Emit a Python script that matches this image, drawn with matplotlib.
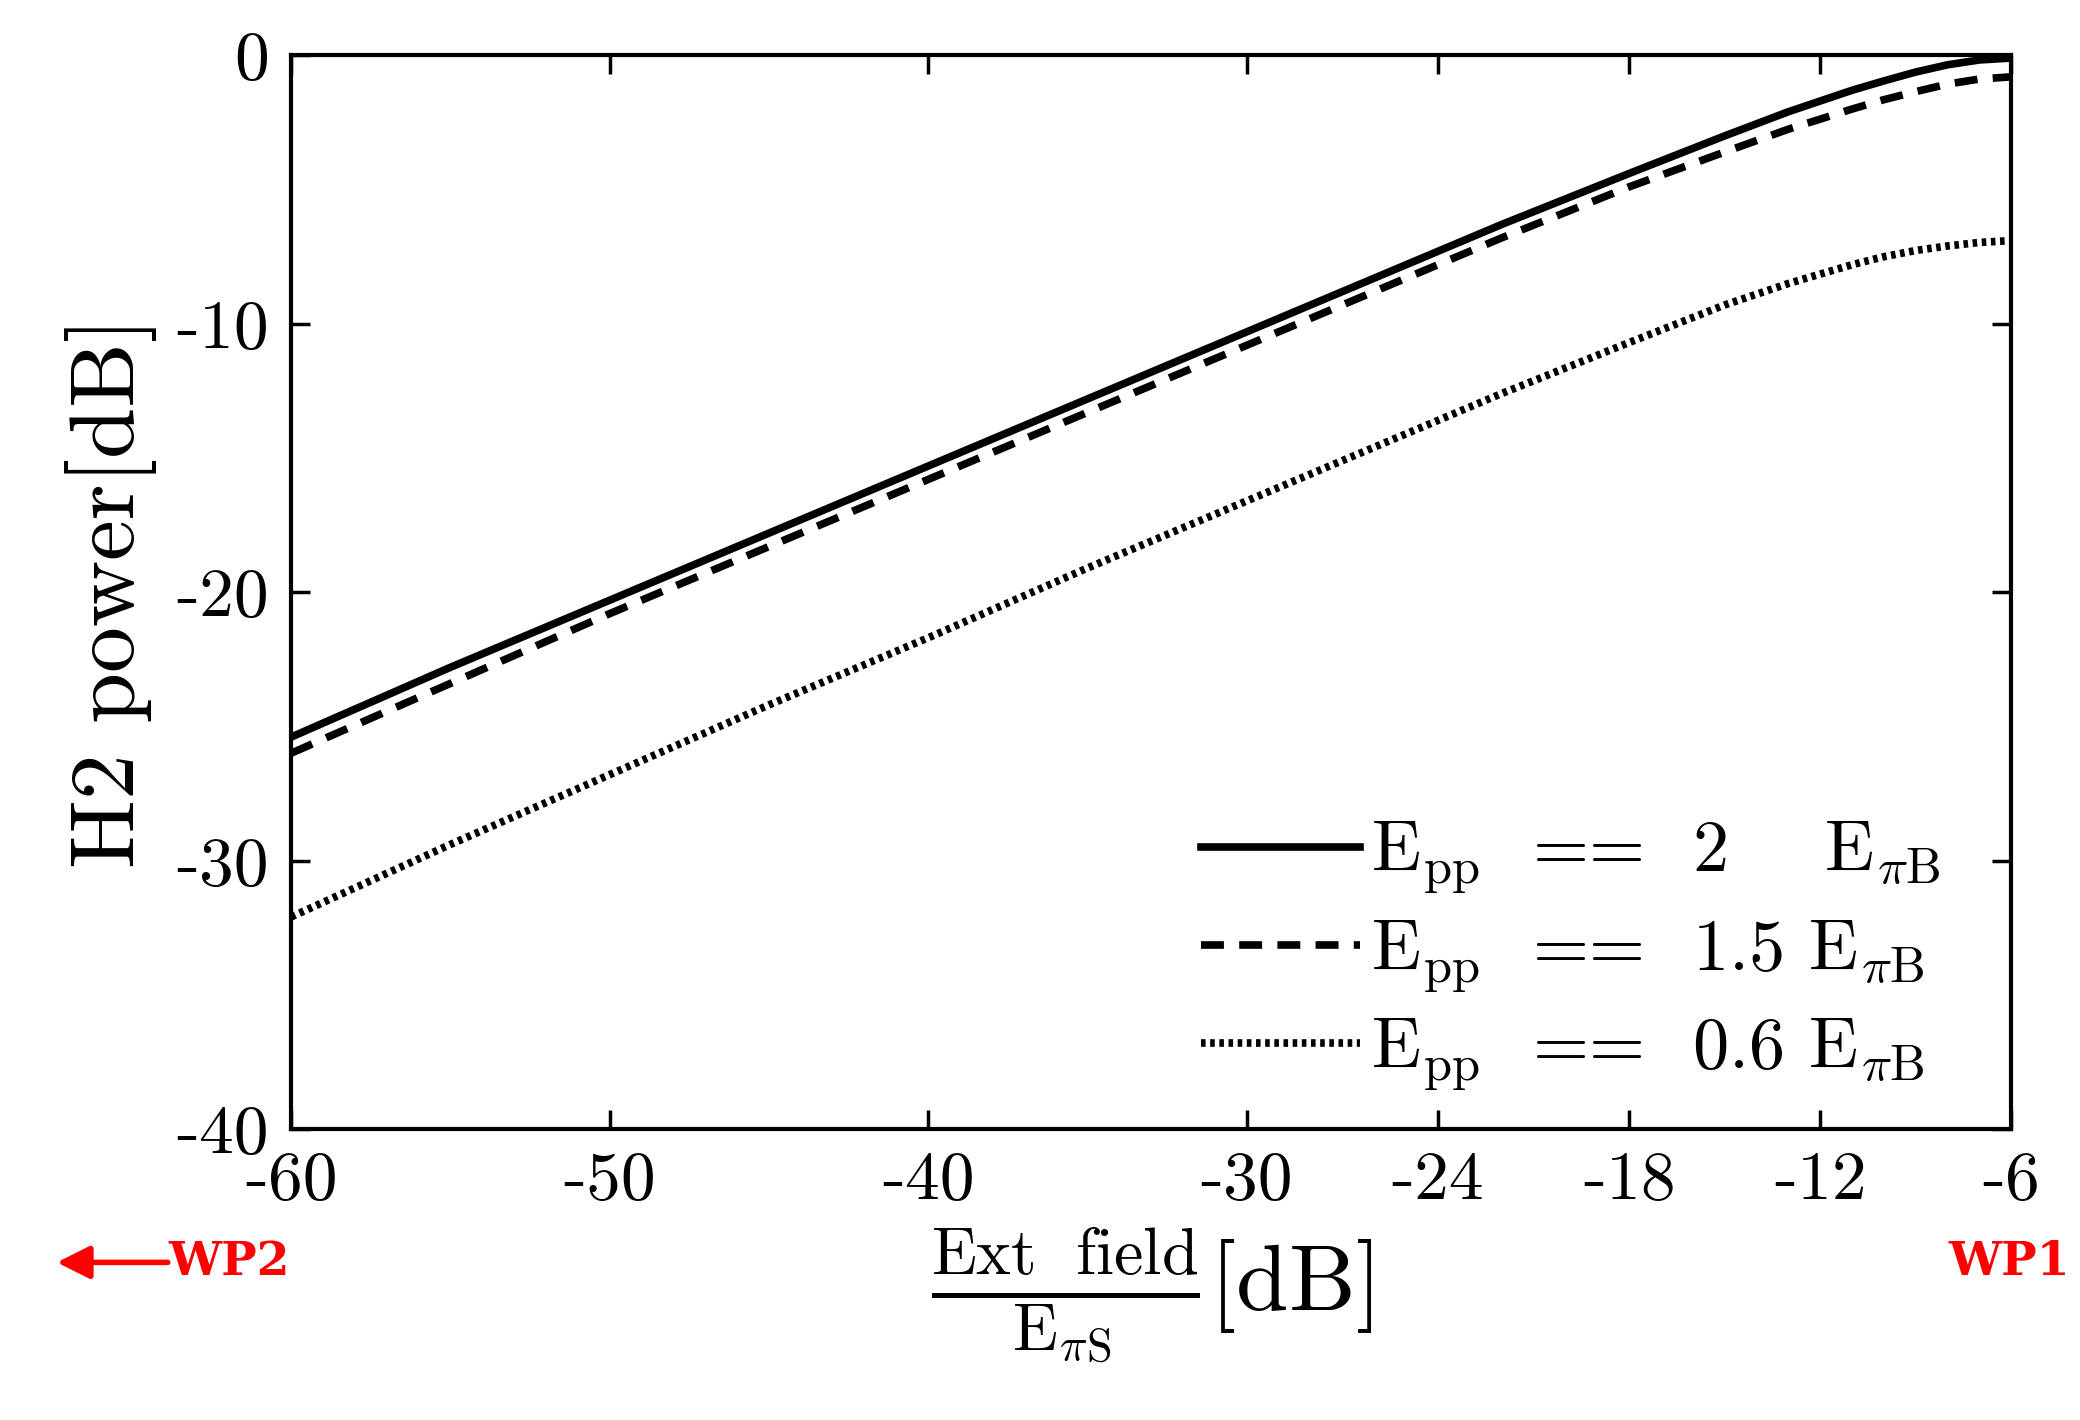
import matplotlib
matplotlib.use("Agg")
import matplotlib.pyplot as plt

plt.rcParams['font.family'] = 'serif'
plt.rcParams['font.serif'] = ['cmr10', 'DejaVu Serif']
plt.rcParams['mathtext.fontset'] = 'cm'
plt.rcParams['axes.unicode_minus'] = False

x = [-60, -55, -50, -45, -40, -35, -30, -26, -22, -18, -15, -13, -11, -10, -9, -8, -7, -6]
y_2 = [-25.4, -22.8, -20.3, -17.8, -15.3, -12.8, -10.3, -8.3, -6.3, -4.4, -3.0, -2.1, -1.3, -0.95, -0.62, -0.35, -0.17, -0.1]
y_15 = [-26.0, -23.4, -20.8, -18.3, -15.8, -13.3, -10.8, -8.8, -6.8, -4.9, -3.6, -2.75, -2.0, -1.65, -1.35, -1.07, -0.88, -0.8]
y_06 = [-32.1, -29.4, -26.8, -24.2, -21.7, -19.1, -16.6, -14.6, -12.6, -10.7, -9.3, -8.5, -7.8, -7.5, -7.27, -7.1, -6.97, -6.9]
xticks = [-60, -50, -40, -30, -24, -18, -12, -6]
yticks = [0, -10, -20, -30, -40]

fig = plt.figure(figsize=(20.8, 14.2), dpi=100)
ax = fig.add_axes([0.140, 0.205, 0.827, 0.756])
ax.plot(x, y_2, 'k-', lw=5.5, label=r'E$_{\rm pp}$  ==  2    E$_{\pi\rm B}$')
ax.plot(x, y_15, 'k--', lw=5.5, dashes=(3, 2), label=r'E$_{\rm pp}$  ==  1.5 E$_{\pi\rm B}$')
ax.plot(x, y_06, 'k:', lw=5.5, dashes=(0.6, 0.6), label=r'E$_{\rm pp}$  ==  0.6 E$_{\pi\rm B}$')
ax.set_xlim(-60, -6)
ax.set_ylim(-40, 0)
ax.set_xticks(xticks)
ax.set_xticklabels([str(v) for v in xticks])
ax.set_yticks(yticks)
ax.set_yticklabels([str(v) for v in yticks])
ax.tick_params(direction='in', length=14, width=2.5, labelsize=50, top=True, right=True, pad=16)
for s in ax.spines.values():
    s.set_linewidth(3)
ax.set_ylabel('H2 power[dB]', fontsize=66, labelpad=14)
ax.set_xlabel(r'$\frac{\rm Ext\ \ field}{\rm E_{\pi S}}$[dB]', fontsize=68, labelpad=10)
leg = ax.legend(loc='lower right', fontsize=52, frameon=False, handlelength=2.2,
                handletextpad=0.15, borderaxespad=0.1, labelspacing=0.3,
                bbox_to_anchor=(0.98, 0.0))
fig.text(0.081, 0.111, 'WP2', color='red', fontsize=34, fontweight='bold', ha='left', va='center',
         family='DejaVu Serif')
fig.add_artist(matplotlib.patches.FancyArrowPatch((0.082, 0.111), (0.026, 0.111), transform=fig.transFigure,
               arrowstyle='-|>', mutation_scale=50, color='red', lw=4))
fig.text(0.995, 0.111, 'WP1', color='red', fontsize=34, fontweight='bold', ha='right', va='center',
         family='DejaVu Serif')
fig.savefig('out.png', dpi=100)
